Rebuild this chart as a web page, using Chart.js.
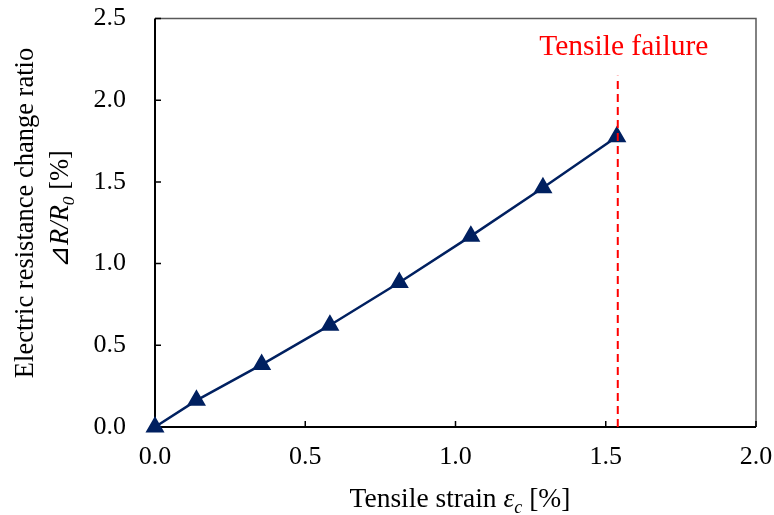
<!DOCTYPE html>
<html>
<head>
<meta charset="utf-8">
<script src="https://cdn.jsdelivr.net/npm/chart.js@4.4.1/dist/chart.umd.min.js"></script>
<style>
  html, body { margin: 0; padding: 0; background: #fff; }
  #wrap { width: 774px; height: 515px; }
</style>
</head>
<body>
<div id="wrap"><canvas id="chart" width="774" height="515"></canvas></div>
<script>
// values
const strain = [0, 0.138, 0.355, 0.582, 0.813, 1.051, 1.291, 1.537];
const ratio = [0, 0.163, 0.382, 0.623, 0.884, 1.168, 1.464, 1.776];
const failureX = [1.54, 1.54];
const failureY = [0, 2.15];
const failureLabel = "Tensile failure";
const xTickStep = 0.5;
const yTickStep = 0.5;

const SERIF = '"Liberation Serif", "Times New Roman", serif';
const NAVY = "#002060";

// draw a run of text pieces (italic / subscript) centred on x, baseline y
function drawRich(ctx, parts, x, y, size) {
    const fontOf = p => (p.italic ? "italic " : "") + (p.sub ? size * 0.66 : size) + "px " + SERIF;
    let total = 0;
    parts.forEach(p => { ctx.font = fontOf(p); total += ctx.measureText(p.text).width; });
    let cx = x - total / 2;
    ctx.textAlign = "left";
    ctx.textBaseline = "alphabetic";
    parts.forEach(p => {
        ctx.font = fontOf(p);
        ctx.fillText(p.text, cx, p.sub ? y + size * 0.22 : y);
        cx += ctx.measureText(p.text).width;
    });
}

const framePlugin = {
    id: "frame",
    beforeDatasetsDraw(chart) {
        const { ctx, chartArea: a, scales } = chart;
        ctx.save();
        // top and right borders
        ctx.strokeStyle = "#595959";
        ctx.lineWidth = 1.5;
        ctx.beginPath();
        ctx.moveTo(a.left, a.top);
        ctx.lineTo(a.right, a.top);
        ctx.lineTo(a.right, a.bottom);
        ctx.stroke();
        // axes
        ctx.strokeStyle = "#000";
        ctx.lineWidth = 2;
        ctx.beginPath();
        ctx.moveTo(a.left, a.top);
        ctx.lineTo(a.left, a.bottom);
        ctx.lineTo(a.right, a.bottom);
        ctx.stroke();
        // inward tick marks
        ctx.lineWidth = 1.5;
        ctx.beginPath();
        scales.x.ticks.forEach(t => {
            const px = scales.x.getPixelForValue(t.value);
            ctx.moveTo(px, a.bottom);
            ctx.lineTo(px, a.bottom - 6);
        });
        scales.y.ticks.forEach(t => {
            const py = scales.y.getPixelForValue(t.value);
            ctx.moveTo(a.left, py);
            ctx.lineTo(a.left + 6, py);
        });
        ctx.stroke();
        ctx.restore();
    },
    afterDraw(chart) {
        const { ctx, scales } = chart;
        ctx.save();
        ctx.fillStyle = "#000";
        // x title
        drawRich(ctx, [
            { text: "Tensile strain " },
            { text: "ε", italic: true },
            { text: "c", italic: true, sub: true },
            { text: " [%]" }
        ], 460, 507, 27.5);
        // y title, two lines
        ctx.save();
        ctx.translate(33, 213);
        ctx.rotate(-Math.PI / 2);
        drawRich(ctx, [{ text: "Electric resistance change ratio" }], 0, 0, 26.5);
        ctx.restore();
        ctx.save();
        ctx.translate(68, 209);
        ctx.rotate(-Math.PI / 2);
        drawRich(ctx, [
            { text: "⊿" },
            { text: "R/R", italic: true },
            { text: "0", italic: true, sub: true },
            { text: " [%]" }
        ], 0, 0, 26.5);
        ctx.restore();
        // failure label
        ctx.fillStyle = "#ff0000";
        ctx.font = "29.5px " + SERIF;
        ctx.textAlign = "center";
        ctx.textBaseline = "alphabetic";
        ctx.fillText(failureLabel, scales.x.getPixelForValue(failureX[0]) + 6, 55);
        ctx.restore();
    }
};

const ctx = document.getElementById("chart").getContext("2d");
new Chart(ctx, {
    type: "scatter",
    data: {
        datasets: [
            {
                label: "ΔR/R0",
                data: strain.map((x, i) => ({ x, y: ratio[i] })),
                showLine: true,
                borderColor: NAVY,
                backgroundColor: NAVY,
                borderWidth: 2.5,
                pointStyle: "triangle",
                pointRadius: 8.5,
                pointHoverRadius: 8.5,
                clip: false,
                order: 2
            },
            {
                label: failureLabel,
                data: failureX.map((x, i) => ({ x, y: failureY[i] })),
                showLine: true,
                borderColor: "#ff0000",
                borderWidth: 2,
                borderDash: [8, 5],
                pointRadius: 0,
                clip: false,
                order: 1
            }
        ]
    },
    options: {
        responsive: false,
        animation: false,
        events: [],
        layout: { padding: { top: 18.5, right: 18, left: 0, bottom: 0 } },
        plugins: {
            legend: { display: false },
            tooltip: { enabled: false }
        },
        scales: {
            x: {
                type: "linear",
                min: 0,
                max: 2,
                afterFit: s => {
                    s.height = 88;
                    s.paddingLeft = 0;
                    s.paddingRight = 0;
                },
                grid: { display: false, drawTicks: false },
                border: { display: false },
                ticks: {
                    stepSize: xTickStep,
                    padding: 15,
                    color: "#000",
                    font: { family: SERIF, size: 26 },
                    callback: v => v.toFixed(1)
                }
            },
            y: {
                type: "linear",
                min: 0,
                max: 2.5,
                afterFit: s => {
                    s.width = 155;
                    s.paddingTop = 0;
                    s.paddingBottom = 0;
                },
                grid: { display: false, drawTicks: false },
                border: { display: false },
                ticks: {
                    stepSize: yTickStep,
                    padding: 29,
                    color: "#000",
                    font: { family: SERIF, size: 26 },
                    callback: v => v.toFixed(1)
                }
            }
        }
    },
    plugins: [framePlugin]
});
</script>
</body>
</html>
